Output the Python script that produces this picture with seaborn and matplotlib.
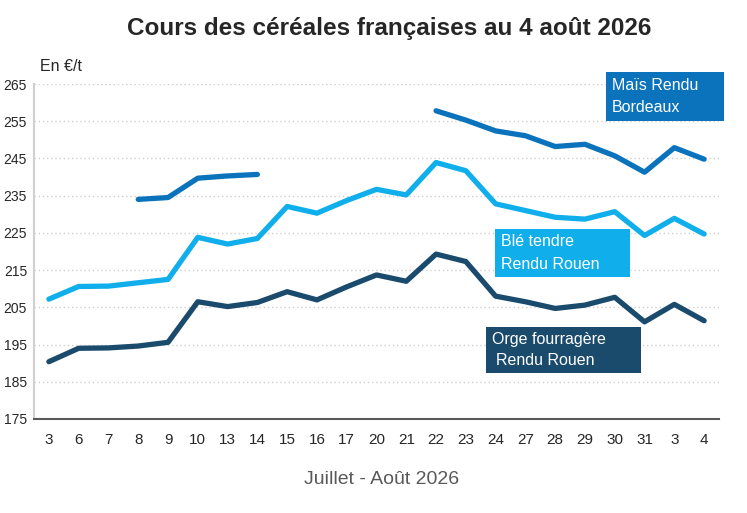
import numpy as np
import pandas as pd
import matplotlib
matplotlib.use("Agg")
import matplotlib.pyplot as plt
from matplotlib.patches import Rectangle
import seaborn as sns

# ---- data ----
dates = ["3", "6", "7", "8", "9", "10", "13", "14", "15", "16", "17", "20", "21",
         "22", "23", "24", "27", "28", "29", "30", "31", "3", "4"]
mais = [np.nan, np.nan, np.nan, 234.0, 234.5, 239.7, 240.3, 240.7,
        np.nan, np.nan, np.nan, np.nan, np.nan,
        257.8, 255.3, 252.4, 251.1, 248.2, 248.8, 245.7, 241.3, 247.9, 244.8]
ble = [207.2, 210.6, 210.7, 211.6, 212.5, 223.8, 222.0, 223.5, 232.1, 230.3, 233.7,
       236.7, 235.2, 243.9, 241.7, 232.8, 231.0, 229.2, 228.7, 230.7, 224.3, 228.9, 224.7]
orge = [190.4, 194.0, 194.1, 194.6, 195.6, 206.5, 205.2, 206.3, 209.2, 207.0, 210.5,
        213.7, 212.0, 219.3, 217.3, 208.0, 206.5, 204.7, 205.6, 207.7, 201.1, 205.8, 201.4]
yticks = [175, 185, 195, 205, 215, 225, 235, 245, 255, 265]

series_names = ["Maïs Rendu Bordeaux", "Blé tendre Rendu Rouen", "Orge fourragère Rendu Rouen"]
colors = {"Maïs Rendu Bordeaux": "#0B72BC",
          "Blé tendre Rendu Rouen": "#10AEEA",
          "Orge fourragère Rendu Rouen": "#1A4B6C"}

rows = []
for name, vals in zip(series_names, [mais, ble, orge]):
    seg = 0
    prev_nan = False
    for i, v in enumerate(vals):
        if np.isnan(v):
            prev_nan = True
            continue
        if prev_nan and i > 0:
            seg += 1
        prev_nan = False
        rows.append({"x": i, "price": v, "series": name, "seg": f"{name}-{seg}"})
df = pd.DataFrame(rows)

# ---- figure ----
sns.set_theme(style="white")
plt.rcParams["font.family"] = ["Liberation Sans", "DejaVu Sans"]

W, H = 747, 513
fig = plt.figure(figsize=(W / 100, H / 100), dpi=100)
ax = fig.add_axes([34 / W, 1 - 419 / H, (719 - 34) / W, (419 - 84) / H])

sns.lineplot(data=df, x="x", y="price", hue="series", units="seg", estimator=None,
             palette=colors, linewidth=3.8, ax=ax, legend=False,
             solid_capstyle="round", solid_joinstyle="round", zorder=3)

ax.set_xlim(-0.5, 22.5)
ax.set_ylim(175, 265)
ax.set_yticks(yticks)
ax.set_yticklabels([str(t) for t in yticks], fontsize=10, color="#262626")
ax.set_xticks(range(len(dates)))
ax.set_xticklabels(dates, fontsize=11, color="#262626")
ax.tick_params(axis="y", length=0, pad=5)
ax.tick_params(axis="x", length=0, pad=10)
ax.set_xlabel("")
ax.set_ylabel("")

ax.yaxis.grid(True, linestyle=(0, (1, 2)), color="#cfcfcf", linewidth=1.0)
ax.xaxis.grid(False)
ax.set_axisbelow(True)
for s in ["top", "right"]:
    ax.spines[s].set_visible(False)
ax.spines["left"].set_color("#d0d0d0")
ax.spines["left"].set_linewidth(1.5)
ax.spines["bottom"].set_color("#595959")
ax.spines["bottom"].set_linewidth(1.5)

# title and labels
fig.text(389 / W, 1 - 29 / H, "Cours des céréales françaises au 4 août 2026",
         ha="center", va="center", fontsize=17.5, fontweight="bold", color="#262626")
fig.text(40 / W, 1 - 67 / H, "En €/t", ha="left", va="center", fontsize=11.5, color="#262626")
fig.text(382 / W, 1 - 479 / H, "Juillet - Août 2026", ha="center", va="center",
         fontsize=14, color="#595959")

# series label boxes
boxes = [
    ((606, 72, 724, 121), "Maïs Rendu", "Bordeaux", colors["Maïs Rendu Bordeaux"], 612, 612),
    ((495, 229, 630, 277), "Blé tendre", "Rendu Rouen", colors["Blé tendre Rendu Rouen"], 501, 501),
    ((486, 327, 641, 373), "Orge fourragère", "Rendu Rouen", colors["Orge fourragère Rendu Rouen"], 492, 496),
]
for (x0, y0, x1, y1), l1, l2, c, tx1, tx2 in boxes:
    fig.patches.append(Rectangle((x0 / W, 1 - y1 / H), (x1 - x0) / W, (y1 - y0) / H,
                                 transform=fig.transFigure, facecolor=c, edgecolor="none",
                                 zorder=4))
    h = (y1 - y0)
    fig.text(tx1 / W, 1 - (y0 + h * 0.27) / H, l1, ha="left", va="center",
             fontsize=11.5, color="white", zorder=5)
    fig.text(tx2 / W, 1 - (y0 + h * 0.73) / H, l2, ha="left", va="center",
             fontsize=11.5, color="white", zorder=5)

fig.savefig("out.png", dpi=100)
